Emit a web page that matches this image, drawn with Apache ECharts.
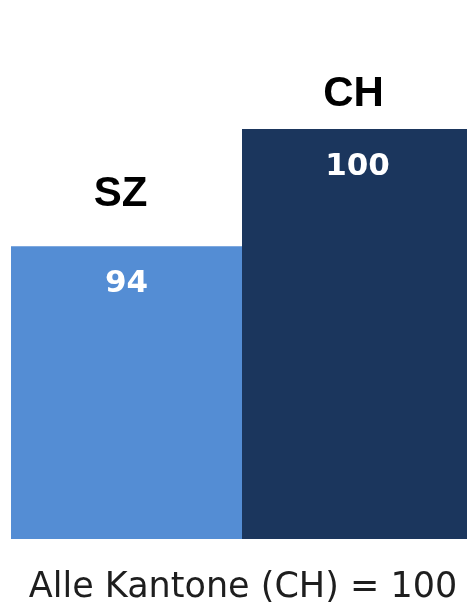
<!DOCTYPE html>
<html><head><meta charset="utf-8">
<script src="https://cdn.jsdelivr.net/npm/echarts@6/dist/echarts.min.js"></script>
<style>html,body{margin:0;padding:0;background:#fff;overflow:hidden}#c{width:473px;height:602px}</style>
</head><body><div id="c"></div>
<script>
const categories = ['SZ', 'CH'];
const values = [94, 100];
const footnote = 'Alle Kantone (CH) = 100';

const colors = ['#548DD4', '#1B365D'];
const nameGaps = [31, 14];
const nameShift = [-6, -4];

const chart = echarts.init(document.getElementById('c'), null, {renderer: 'canvas'});
chart.setOption({
  animation: false,
  backgroundColor: '#ffffff',
  title: {
    text: footnote, left: 238, top: 565, textAlign: 'center',
    textStyle: {fontFamily: 'DejaVu Sans', fontWeight: 'normal', fontSize: 35, color: '#1e1e1e'}
  },
  grid: {left: 11, right: 0, top: 129, bottom: 63},
  xAxis: {type: 'category', data: categories, show: false},
  yAxis: {type: 'value', min: 79, max: 100, show: false},
  series: [
    {
      type: 'bar', barCategoryGap: 0, barGap: '-100%',
      data: values.map((v, i) => ({value: v, itemStyle: {color: colors[i]}})),
      label: {
        show: true, position: 'insideTop', distance: 23,
        fontFamily: 'DejaVu Sans', fontWeight: 'bold', fontSize: 31, lineHeight: 30,
        color: '#ffffff', formatter: '{c}'
      }
    },
    {
      type: 'bar', barCategoryGap: 0, barGap: '-100%', silent: true,
      data: values.map((v, i) => ({value: v, itemStyle: {color: 'rgba(0,0,0,0)'}, label: {distance: nameGaps[i], offset: [nameShift[i], 0]}})),
      label: {
        show: true, position: 'top',
        fontFamily: 'Liberation Sans', fontWeight: 'bold', fontSize: 42,
        color: '#000000', formatter: '{b}'
      }
    }
  ]
});
</script></body></html>
